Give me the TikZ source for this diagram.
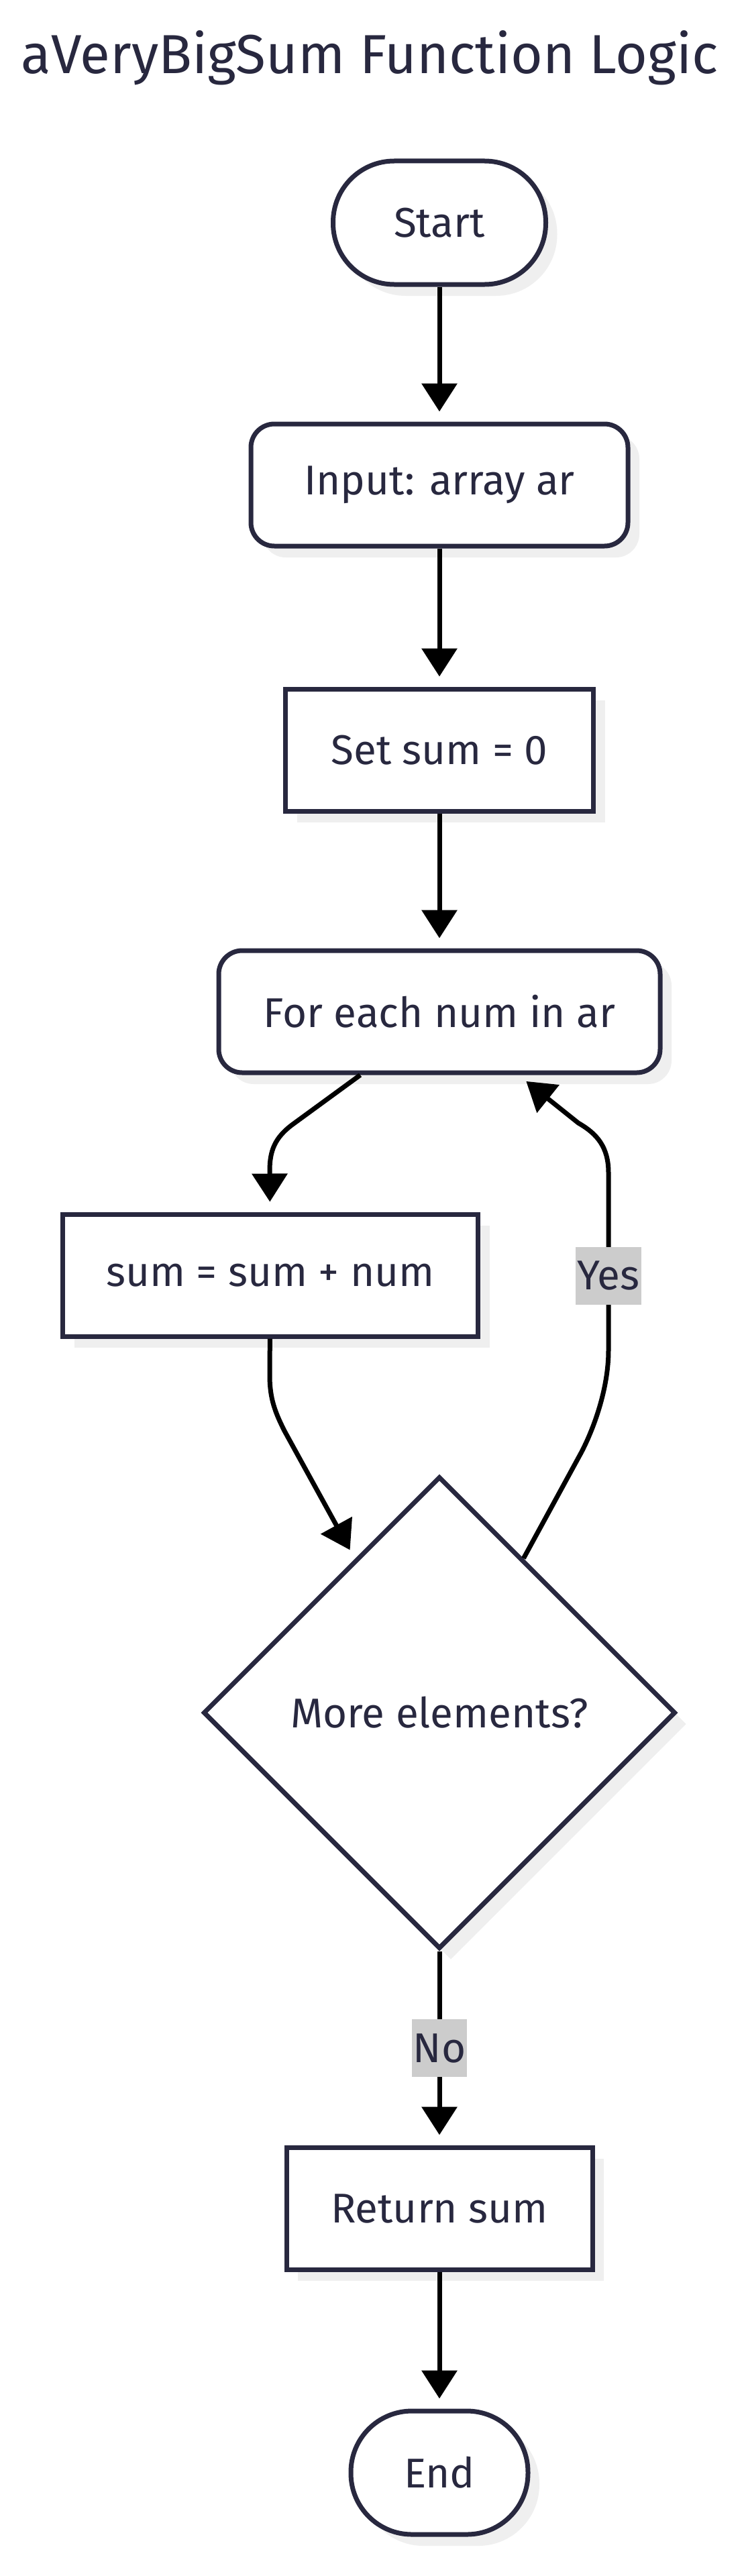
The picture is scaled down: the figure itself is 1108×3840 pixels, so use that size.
\documentclass[tikz,border=0pt]{standalone}
\usepackage{fontspec}
\setmainfont{Fira Sans}
\usepackage{tikz}
\usetikzlibrary{shapes, arrows.meta, positioning, calc, shadows}
\definecolor{ink}{HTML}{28283F}
\definecolor{shade}{HTML}{EFEFEF}
\definecolor{lblgray}{HTML}{CCCCCC}

\begin{document}
\begin{tikzpicture}[x=1pt, y=-1pt,
    every node/.style={font=\fontsize{62pt}{74pt}\selectfont, text=ink},
    box/.style={draw=ink, line width=7pt, fill=white, inner sep=0pt,
        drop shadow={shadow xshift=17pt, shadow yshift=-17pt, fill=shade, opacity=1}},
    term/.style={box, rounded corners=91pt, minimum height=184pt},
    rbox/.style={box, rounded corners=35pt, minimum height=182pt},
    pbox/.style={box, minimum height=182pt},
    cond/.style={box, diamond, aspect=1, minimum width=704pt, minimum height=704pt},
    flow/.style={draw=black, line width=7pt, line join=round,
        -{Triangle[length=42pt, width=52pt]}, shorten >=15pt},
    lbl/.style={fill=lblgray, inner xsep=2pt, inner ysep=0pt, minimum height=86pt}]
    \useasboundingbox (0,0) rectangle (1108,3840);

    % title
    \node[anchor=base, font=\fontsize{82pt}{98pt}\selectfont] (title) at (551,110) {aVeryBigSum Function Logic};

    % nodes
    \node[term, minimum width=317pt] (start) at (655,332) {Start};
    \node[rbox, minimum width=562pt] (input) at (655,723) {Input: array ar};
    \node[pbox, minimum width=459pt] (init) at (655,1118) {Set sum = 0};
    \node[rbox, minimum width=658pt] (loop) at (655,1508) {For each num in ar};
    \node[pbox, minimum width=619pt] (add) at (403,1901) {sum = sum + num};
    \node[cond] (more) at (655,2553) {More elements?};
    \node[pbox, minimum width=456pt] (ret) at (655,3292) {Return sum};
    \node[term, minimum width=264pt] (stop) at (655,3686) {End};

    % edges
    \draw[flow] (start) -- (input);
    \draw[flow] (input) -- (init);
    \draw[flow] (init) -- (loop);
    \draw[flow] ([xshift=-118pt]loop.south) -- (435,1677)
        .. controls (410,1696) and (402,1715) .. (402,1745) -- (add);
    \draw[flow] (add) -- (402,2050)
        .. controls (402,2085) and (410,2105) .. (424,2133) -- (more);
    \draw[flow] (more) -- (866,2166)
        .. controls (885,2130) and (907,2070) .. (907,2013)
        -- node[lbl, pos=0.42] (yes) {Yes} (907,1748)
        .. controls (907,1710) and (890,1690) .. (862,1674) -- (loop);
    \draw[flow] (more) -- node[lbl] (no) {No} (ret);
    \draw[flow] (ret) -- (stop);
\end{tikzpicture}
\end{document}
